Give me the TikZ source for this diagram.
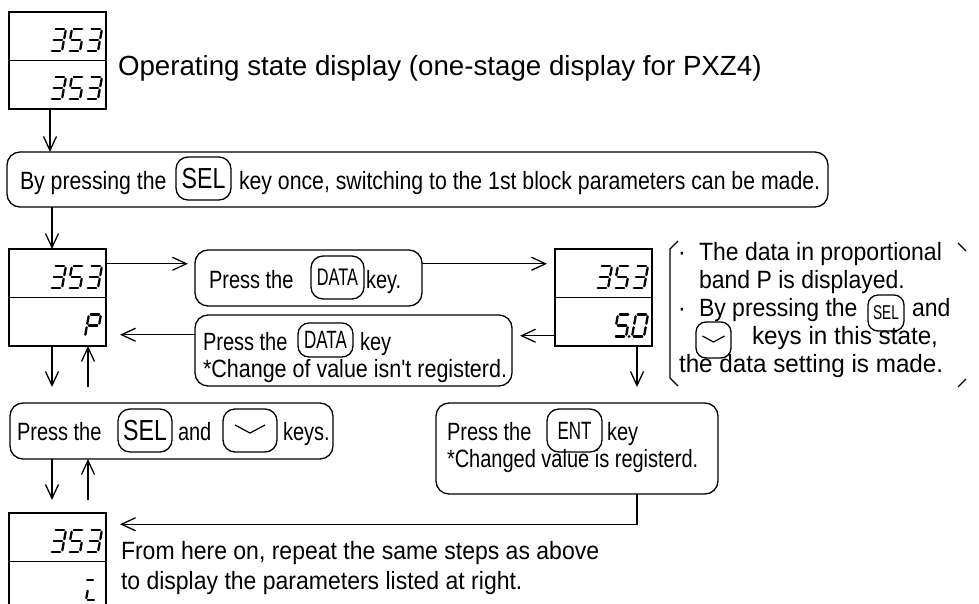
\documentclass[tikz,border=0pt]{standalone}
\usepackage{fontspec}
\setmainfont{Liberation Sans}
\newfontfamily\ftop{Liberation Sans}
\newfontfamily\fbody[FakeStretch=0.92]{Liberation Sans}
\newfontfamily\fwide[FakeStretch=0.97]{Liberation Sans}
\newfontfamily\fnar[FakeStretch=0.80]{Liberation Sans}
\newfontfamily\fbar[FakeStretch=0.85]{Liberation Sans}
\newfontfamily\fmid[FakeStretch=0.86]{Liberation Sans}
\newfontfamily\fkey[FakeStretch=0.80]{Liberation Sans}
\newfontfamily\fkeyn[FakeStretch=0.68]{Liberation Sans}
\usetikzlibrary{arrows.meta}
\newcommand\sz[1]{\fontsize{#1}{#1}\selectfont}

% seven-segment strokes, local coordinates: origin bottom-left, y upwards
\newcommand\sgA{\draw[seg] (1.8,22) -- (10.2,22);}
\newcommand\sgB{\draw[seg] (12,20.2) -- (12,12.8);}
\newcommand\sgC{\draw[seg] (12,9.2) -- (12,1.8);}
\newcommand\sgD{\draw[seg] (1.8,0) -- (10.2,0);}
\newcommand\sgE{\draw[seg] (0,1.8) -- (0,9.2);}
\newcommand\sgF{\draw[seg] (0,12.8) -- (0,20.2);}
\newcommand\sgG{\draw[seg] (1.8,11) -- (10.2,11);}
\newcommand\sgDP{\fill (15,0) circle (1.5);}
\newcommand\dThree{\sgA\sgB\sgC\sgD\sgG}
\newcommand\dFive{\sgA\sgF\sgG\sgC\sgD}
\newcommand\dZero{\sgA\sgB\sgC\sgD\sgE\sgF}
\newcommand\dP{\sgA\sgB\sgF\sgG\sgE}
\newcommand\dI{\draw[seg] (-2.5,20) -- (3.5,20); \sgE \draw[seg] (1.8,0) -- (8,0);}
% #1,#2: bottom-left of the digit cell on the page, #3: strokes
\newcommand\sevseg[3]{\begin{scope}[shift={(#1,#2)},yscale=-1,xslant=-0.18]#3\end{scope}}
% three-digit 353 readout in a display half whose left edge is #1 and digit bottom #2
\newcommand\readout[2]{%
  \sevseg{#1+41}{#2}{\dThree}\sevseg{#1+59}{#2}{\dFive}\sevseg{#1+77}{#2}{\dThree}}

\begin{document}
\begin{tikzpicture}[x=1pt,y=-1pt,
  every node/.style={inner sep=0pt,outer sep=0pt},
  seg/.style={line width=2.3pt,line cap=round},
  disp/.style={draw,line width=1.4pt,minimum width=97pt,minimum height=48.5pt},
  frame/.style={draw,line width=1.3pt,rounded corners=13pt},
  keycap/.style={draw,line width=1.3pt,rounded corners=12pt},
  txt/.style={anchor=base west},
  chev/.style={line width=1.2pt,line join=round},
  arr/.style={line width=1.3pt,-{Straight Barb[length=14pt,width=13pt]}},
  brk/.style={line width=1.1pt}]
\useasboundingbox (0,0) rectangle (979,603);
\clip (0,0) rectangle (979,603);

% ---- display units ----
\node[disp] (d1t) at (57.5,36.25) {};
\node[disp] (d1b) at (57.5,84.75) {};
\node[disp] (d2t) at (57.5,273.25) {};
\node[disp] (d2b) at (57.5,321.75) {};
\node[disp] (d3t) at (603.5,273.25) {};
\node[disp] (d3b) at (603.5,321.75) {};
\node[disp] (d4t) at (57.5,537.25) {};
\node[disp] (d4b) at (57.5,585.75) {};

\readout{9}{51}
\readout{9}{99}
\readout{9}{288}
\sevseg{85}{336.5}{\dP}
\readout{555}{288}
\sevseg{614}{336.5}{\dFive\sgDP}
\sevseg{632}{336.5}{\dZero}
\readout{9}{552}
\sevseg{86}{600}{\dI}

% ---- captions ----
\node[txt] (cap1) at (118,75) {\ftop\sz{27.7}Operating state display (one-stage display for PXZ4)};

% ---- SEL bar ----
\node[frame,minimum width=821pt,minimum height=55pt] (selbar) at (417.5,179.5) {};
\node[txt] (sb1) at (20,189) {\fbar\sz{25}By pressing the};
\node[keycap,minimum width=55pt,minimum height=43pt] (k1) at (203.5,178.5) {\fkey\sz{29}SEL};
\node[txt] (sb2) at (239,189) {\fbar\sz{25}key once, switching to the 1st block parameters can be made.};

% ---- DATA (enter setting) ----
\node[frame,minimum width=227pt,minimum height=56pt] (data1) at (308.5,278) {};
\node[txt] (da1) at (209,288) {\fnar\sz{25}Press the};
\node[keycap,minimum width=53pt,minimum height=43pt] (k2) at (337.5,277.5) {\fkeyn\sz{24}DATA};
\node[txt] (da2) at (366,288) {\fnar\sz{25}key.};

% ---- DATA (leave without registering) ----
\node[frame,minimum width=317pt,minimum height=71pt] (data2) at (353.5,350.5) {};
\node[txt] (db1) at (203,350) {\fnar\sz{25}Press the};
\node[keycap,rounded corners=11pt,minimum width=55pt,minimum height=34pt] (k3) at (325.5,340) {\fkeyn\sz{25}DATA};
\node[txt] (db2) at (360,350) {\fnar\sz{25}key};
\node[txt] (db3) at (203,377) {\fmid\sz{25}*Change of value isn't registerd.};

% ---- SEL and down ----
\node[frame,minimum width=323pt,minimum height=56pt] (seldn) at (171.5,431) {};
\node[txt] (sd1) at (17,440) {\fnar\sz{25}Press the};
\node[keycap,minimum width=54pt,minimum height=43pt] (k4) at (145,430.5) {\fkey\sz{29}SEL};
\node[txt] (sd2) at (178,440) {\fnar\sz{25}and};
\node[keycap,minimum width=54pt,minimum height=43pt] (k5) at (250,430.5) {};
\draw[chev] ([shift={(-15,-5.5)}]k5.center) -- ([shift={(0,2.5)}]k5.center) -- ([shift={(15,-5.5)}]k5.center);
\node[txt] (sd3) at (283,440) {\fnar\sz{25}keys.};

% ---- ENT ----
\node[frame,minimum width=282pt,minimum height=91pt] (ent) at (577,448.5) {};
\node[txt] (en1) at (447,440) {\fnar\sz{25}Press the};
\node[keycap,minimum width=55pt,minimum height=43pt] (k6) at (574.5,430.5) {\fkeyn\sz{25}ENT};
\node[txt] (en2) at (607,440) {\fnar\sz{25}key};
\node[txt] (en3) at (447,467) {\fnar\sz{25}*Changed value is registerd.};

% ---- notes at right ----
\node[txt] (nb1) at (678,260) {\fbody\sz{25}·};
\node[txt] (n1) at (699,260) {\fbody\sz{25}The data in proportional};
\node[txt] (n2) at (699,288) {\fbody\sz{25}band P is displayed.};
\node[txt] (nb2) at (678,316) {\fbody\sz{25}·};
\node[txt] (n3) at (699,316) {\fbody\sz{25}By pressing the};
\node[keycap,rounded corners=10pt,minimum width=36pt,minimum height=36pt] (k7) at (886,313) {\fkeyn\sz{20}SEL};
\node[txt] (n4) at (912,316) {\fbody\sz{25}and};
\node[keycap,rounded corners=10pt,minimum width=35pt,minimum height=36pt] (k8) at (713.5,340) {};
\draw[chev] ([shift={(-11,-4)}]k8.center) -- ([shift={(0,2)}]k8.center) -- ([shift={(11,-4)}]k8.center);
\node[txt] (n5) at (752,344) {\fwide\sz{25}keys in this state,};
\node[txt] (n6) at (679,372) {\fwide\sz{25}the data setting is made.};
\draw[brk] (678,241) -- (670,249) -- (670,378) -- (678,386);
\draw[brk] (958,243) -- (966,251);
\draw[brk] (966,379) -- (958,387);

% ---- bottom caption ----
\node[txt] (b1) at (121,559) {\fbody\sz{25}From here on, repeat the same steps as above};
\node[txt] (b2) at (121,589) {\fbody\sz{25}to display the parameters listed at right.};

% ---- connectors ----
\draw[arr] ([xshift=-7.5pt]d1b.south) -- ([xshift=-7.5pt]d1b.south |- selbar.north);
\draw[arr] ([xshift=-5.5pt]d2t.north |- selbar.south) -- ([xshift=-5.5pt]d2t.north);
\draw[arr,shorten >=7pt] ([yshift=9.5pt]d2t.east) -- ([yshift=9.5pt]d2t.east -| data1.west);
\draw[arr,shorten >=8pt] ([yshift=9.5pt]d3t.west -| data1.east) -- ([yshift=9.5pt]d3t.west);
\draw[arr,shorten >=8pt] ([yshift=-14pt]d3b.west) -- ([yshift=-14pt]d3b.west -| data2.east);
\draw[arr,shorten >=14pt] ([yshift=-13pt]d2b.east -| data2.west) -- ([yshift=-13pt]d2b.east);
\draw[arr,shorten >=16pt] ([xshift=33.5pt]d3b.south) -- ([xshift=33.5pt]d3b.south |- ent.north);
\draw[arr,shorten >=14pt] ([xshift=33.5pt]d3b.south |- ent.south) |- ([yshift=13pt]d4t.east);
\draw[arr,shorten >=16pt] ([xshift=-5.5pt]d2b.south) -- ([xshift=-5.5pt]d2b.south |- seldn.north);
\draw[arr,shorten <=16pt] ([xshift=30.5pt]d2b.south |- seldn.north) -- ([xshift=30.5pt]d2b.south);
\draw[arr,shorten >=13pt] ([xshift=-5.5pt]d4t.north |- seldn.south) -- ([xshift=-5.5pt]d4t.north);
\draw[arr,shorten <=13pt] ([xshift=30.5pt]d4t.north) -- ([xshift=30.5pt]d4t.north |- seldn.south);
\end{tikzpicture}
\end{document}
